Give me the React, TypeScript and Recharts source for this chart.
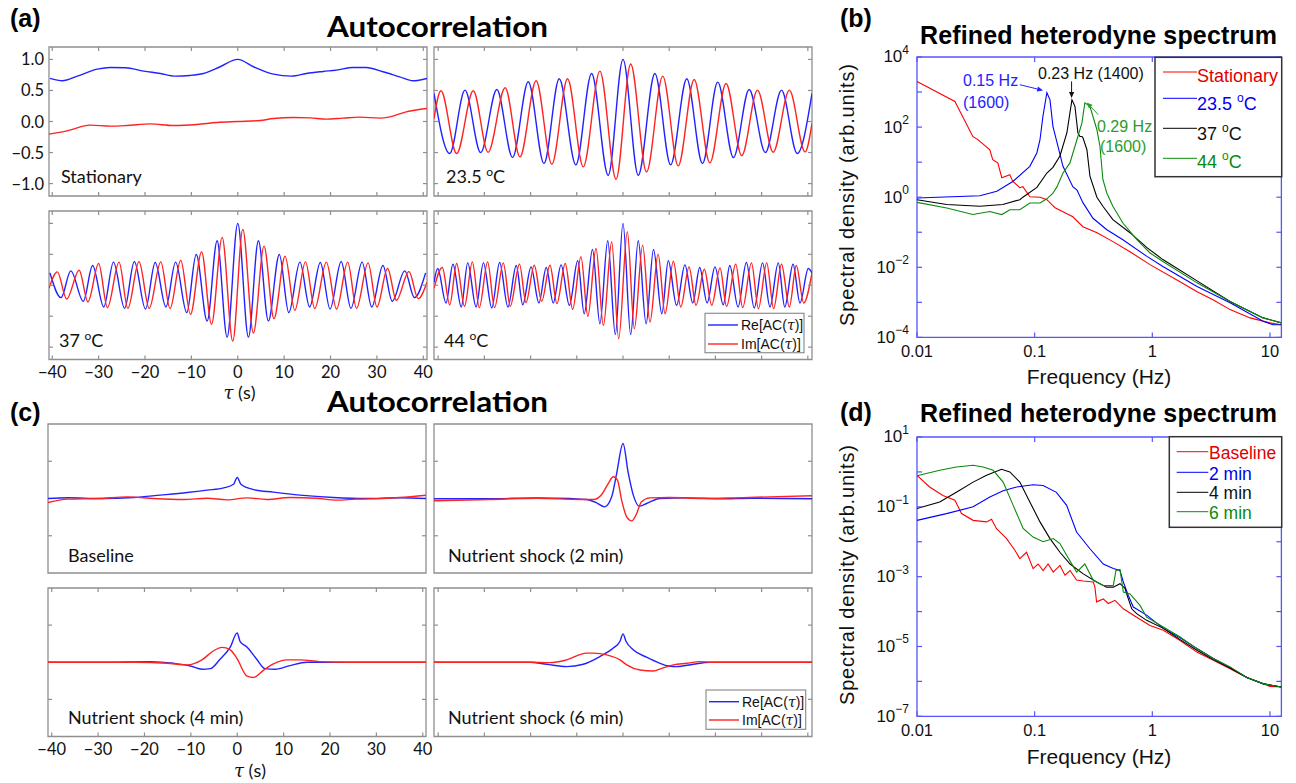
import React from "react";
import { LineChart, Line, XAxis, YAxis, ReferenceArea, ReferenceLine } from "recharts";

type P = [number, number];

// ---- autocorrelation panels (tau in s, value) ----
const tauTicks = [-40, -30, -20, -10, 0, 10, 20, 30, 40];
const acTicksA = [-1, -0.5, 0, 0.5, 1];
const acTicksC = [-0.5, 0.5];

const statRe: P[] = [[-40.5, 0.694], [-37.8, 0.656], [-34.6, 0.731], [-30.3, 0.844], [-27.5, 0.871], [-24.2, 0.866], [-20.3, 0.812], [-16.7, 0.774], [-13.5, 0.731], [-10.3, 0.742], [-7.4, 0.774], [-3.8, 0.882], [0, 1.0], [3.4, 0.882], [7.7, 0.763], [11.6, 0.731], [14.8, 0.774], [18.4, 0.806], [21.3, 0.828], [24.9, 0.871], [27.7, 0.871], [31.3, 0.801], [34.9, 0.72], [37.8, 0.656], [40.8, 0.694]];
const statIm: P[] = [[-40.7, -0.204], [-36.8, -0.15], [-31.8, -0.059], [-27.5, -0.075], [-23.9, -0.065], [-18.9, -0.038], [-13.8, -0.065], [-8.8, -0.048], [-4.5, -0.016], [0, 0], [4.8, 0.016], [7.7, 0.048], [12, 0.065], [15.6, 0.059], [19.1, 0.038], [22.7, 0.054], [26.3, 0.07], [30.6, 0.054], [32.8, 0.075], [36.3, 0.156], [40.8, 0.21]];

const t235Re: P[] = [[-40.9, 0.452], [-37.5, -0.516], [-34.2, 0.505], [-30.8, -0.5], [-27.3, 0.516], [-23.9, -0.581], [-20.5, 0.64], [-17.1, -0.677], [-13.8, 0.688], [-10.2, -0.699], [-6.8, 0.774], [-3.2, -0.866], [0, 1.0], [3.3, -0.866], [6.9, 0.774], [10.3, -0.699], [13.8, 0.688], [17.2, -0.677], [20.5, 0.634], [23.9, -0.581], [27.3, 0.516], [30.8, -0.5], [34.3, 0.505], [37.7, -0.516], [40.9, 0.452]];
const t235Im: P[] = [[-40.9, 0.048], [-39.4, 0.495], [-36, -0.516], [-32.4, 0.495], [-29.2, -0.495], [-25.5, 0.543], [-22.3, -0.57], [-18.8, 0.656], [-15.4, -0.688], [-12, 0.688], [-8.6, -0.731], [-5.0, 0.812], [-1.5, -0.93], [1.66, 0.925], [5.1, -0.812], [8.6, 0.731], [11.95, -0.715], [15.4, 0.677], [18.8, -0.667], [22.3, 0.613], [25.7, -0.548], [29.1, 0.505], [32.5, -0.495], [36, 0.505], [39.4, -0.49], [40.9, -0.03]];

const t37Re: P[] = [[-40.5, 0.2], [-38.1, -0.2], [-36.0, 0.232], [-33.3, -0.259], [-31.3, 0.319], [-28.9, -0.351], [-26.8, 0.373], [-24.4, -0.373], [-22.3, 0.384], [-19.9, -0.384], [-17.8, 0.368], [-15.5, -0.351], [-13.4, 0.373], [-11.0, -0.443], [-8.96, 0.497], [-6.6, -0.578], [-4.45, 0.719], [-2.3, -0.838], [0, 1.0], [2.3, -0.838], [4.45, 0.719], [6.6, -0.578], [8.96, 0.497], [11.0, -0.443], [13.4, 0.373], [15.5, -0.351], [17.8, 0.368], [19.9, -0.384], [22.3, 0.384], [24.4, -0.373], [26.8, 0.373], [28.9, -0.351], [31.3, 0.319], [33.3, -0.259], [36.0, 0.232], [38.1, -0.2], [40.5, 0.2]];
const t37Im: P[] = [[-40.7, -0.05], [-38.9, 0.216], [-36.9, -0.222], [-34.2, 0.243], [-32.3, -0.27], [-30.0, 0.351], [-28.1, -0.362], [-25.6, 0.373], [-23.7, -0.373], [-21.3, 0.384], [-19.1, -0.373], [-16.6, 0.378], [-14.6, -0.378], [-12.3, 0.405], [-10.2, -0.47], [-7.8, 0.54], [-5.66, -0.632], [-3.37, 0.773], [-1.08, -0.903], [1.08, 0.903], [3.37, -0.773], [5.66, 0.632], [7.8, -0.54], [10.2, 0.47], [12.3, -0.405], [14.6, 0.378], [16.6, -0.378], [19.1, 0.373], [21.3, -0.384], [23.7, 0.373], [25.6, -0.373], [28.1, 0.362], [30.0, -0.351], [32.3, 0.27], [34.2, -0.243], [36.9, 0.222], [38.9, -0.216], [40.8, 0.05]];

const t44Re: P[] = [[-40.9, 0.05], [-40.1, 0.27], [-38.3, -0.286], [-36.8, 0.34], [-35, -0.351], [-33.6, 0.362], [-31.8, -0.351], [-30.2, 0.362], [-28.4, -0.368], [-26.7, 0.368], [-24.9, -0.351], [-23.1, 0.319], [-21.7, -0.314], [-19.9, 0.297], [-18.2, -0.286], [-16.6, 0.286], [-15.1, -0.286], [-13.4, 0.33], [-11.6, -0.324], [-9.8, 0.395], [-8.4, -0.46], [-6.6, 0.578], [-5.0, -0.622], [-3.3, 0.719], [-1.66, -0.795], [0, 1.0], [1.66, -0.795], [3.3, 0.719], [5.0, -0.622], [6.6, 0.578], [8.4, -0.46], [9.8, 0.395], [11.6, -0.324], [13.4, 0.33], [15.1, -0.286], [16.6, 0.286], [18.2, -0.286], [19.9, 0.297], [21.7, -0.314], [23.1, 0.319], [24.9, -0.351], [26.7, 0.368], [28.4, -0.368], [30.2, 0.362], [31.8, -0.351], [33.6, 0.362], [35, -0.351], [36.8, 0.34], [38.3, -0.286], [40.1, 0.27], [40.9, 0.2]];
const t44Im: P[] = [[-40.9, -0.05], [-39.1, 0.286], [-37.5, -0.319], [-36, 0.351], [-34.3, -0.34], [-32.6, 0.378], [-31.1, -0.362], [-29.3, 0.378], [-27.8, -0.362], [-25.9, 0.362], [-24.4, -0.34], [-22.4, 0.341], [-21, -0.281], [-19.2, 0.324], [-17.6, -0.259], [-15.8, 0.324], [-14.3, -0.297], [-12.5, 0.351], [-10.9, -0.389], [-9.1, 0.46], [-7.6, -0.503], [-5.84, 0.595], [-4.25, -0.649], [-2.45, 0.703], [-0.94, -0.865], [0.94, 0.865], [2.45, -0.703], [4.25, 0.649], [5.84, -0.595], [7.6, 0.503], [9.1, -0.46], [10.9, 0.389], [12.5, -0.351], [14.3, 0.297], [15.8, -0.324], [17.6, 0.259], [19.2, -0.324], [21, 0.281], [22.4, -0.341], [24.4, 0.34], [25.9, -0.362], [27.8, 0.362], [29.3, -0.378], [31.1, 0.362], [32.6, -0.378], [34.3, 0.34], [36, -0.351], [37.5, 0.319], [39.1, -0.286], [40.9, 0.2]];

const baseRe: P[] = [[-40.8, 0], [-36.6, 0.01], [-29.5, 0], [-22.3, 0.013], [-16.6, 0.045], [-10.8, 0.08], [-6.5, 0.112], [-2.9, 0.143], [-0.8, 0.192], [0, 0.282], [0.8, 0.192], [3.5, 0.12], [7.8, 0.085], [13.5, 0.045], [20.7, 0.013], [27.9, 0], [35, 0.01], [40.8, 0]];
const baseIm: P[] = [[-40.8, -0.054], [-36.6, -0.009], [-29.5, 0], [-23.7, 0.022], [-18, 0], [-11.5, -0.013], [-6.5, 0.004], [-2.2, -0.018], [2.1, 0.009], [6.4, -0.013], [11.4, 0.013], [17, 0.004], [21.4, -0.022], [25.6, -0.009], [31.3, 0], [35, 0.013], [40.8, 0.045]];
const ns2Re: P[] = [[-40.9, -0.004], [-29, -0.004], [-18.7, 0.009], [-11.5, 0], [-7.9, -0.013], [-5.7, -0.058], [-4.0, -0.112], [-2.45, 0.022], [-1.37, 0.336], [0, 0.738], [1.15, 0.336], [2.23, 0.045], [3.5, -0.103], [5.1, -0.067], [8, 0], [13.8, 0.009], [21, -0.004], [28, 0.004], [40.9, -0.004]];
const ns2Im: P[] = [[-40.9, -0.031], [-29, -0.013], [-18.7, 0.004], [-9.3, -0.013], [-6.4, -0.013], [-4.6, 0.054], [-3.2, 0.201], [-2.1, 0.291], [-1.2, 0.246], [-0.3, -0.022], [0.8, -0.246], [1.9, -0.3], [2.8, -0.224], [4.0, -0.045], [5.8, 0.009], [10, 0.013], [17.3, 0], [24.5, 0.009], [31.7, 0.022], [40.9, 0.036]];
const ns4Re: P[] = [[-40.8, 0], [-29.5, 0], [-18.7, 0.009], [-13.7, -0.014], [-10.1, -0.05], [-7.6, -0.095], [-5.8, -0.086], [-3.7, 0.041], [-1.5, 0.205], [0, 0.395], [0.6, 0.282], [2.1, 0.205], [4.2, 0.041], [6.0, -0.086], [8.2, -0.095], [11.4, -0.045], [15, 0], [40.8, 0]];
const ns4Im: P[] = [[-40.8, 0], [-22, 0], [-15.1, -0.014], [-10.8, -0.036], [-7.6, 0.032], [-5.1, 0.155], [-3.3, 0.2], [-1.5, 0.168], [-0.1, 0.055], [2.1, -0.186], [3.5, -0.205], [5.7, -0.105], [7.8, -0.023], [10.7, 0.032], [13.5, 0.032], [17.8, 0.009], [24, 0], [40.8, 0]];
const ns6Re: P[] = [[-40.9, 0], [-20.1, 0], [-16.5, -0.027], [-12.2, -0.059], [-8.6, -0.027], [-5, 0.077], [-2.1, 0.191], [-0.65, 0.282], [0, 0.382], [0.65, 0.282], [2.2, 0.168], [5.1, 0.068], [8, -0.014], [9.8, -0.05], [11.6, -0.059], [15.2, -0.027], [18.8, 0], [40.9, 0]];
const ns6Im: P[] = [[-40.9, 0], [-20.1, 0], [-15.8, -0.005], [-12.2, 0.032], [-7.9, 0.123], [-6.4, 0.123], [-3.5, 0.1], [-0.65, 0.032], [0.8, -0.036], [3.7, -0.105], [6.6, -0.118], [8.4, -0.082], [10.9, -0.036], [13.8, -0.014], [16.6, 0.009], [18.8, 0], [40.9, 0]];

// ---- spectra (frequency Hz, spectral density) ----
const freqTicks = [0.01, 0.1, 1, 10];
const decB = [1e-4, 1e-3, 1e-2, 1e-1, 1, 1e1, 1e2, 1e3, 1e4];
const decD = [1e-7, 1e-6, 1e-5, 1e-4, 1e-3, 1e-2, 1e-1, 1, 1e1];

const specStat: P[] = [[0.01, 2000], [0.021, 540], [0.0298, 54], [0.0329, 44], [0.0416, 22.6], [0.044, 11.7], [0.0486, 9.6], [0.0526, 3.6], [0.0615, 4.4], [0.0652, 2.8], [0.0748, 1.87], [0.0794, 2.0], [0.091, 1.03], [0.111, 1.0], [0.127, 0.85], [0.14, 0.61], [0.149, 0.5], [0.174, 0.385], [0.211, 0.277], [0.257, 0.144], [0.339, 0.097], [0.463, 0.054], [0.646, 0.0279], [0.955, 0.0119], [1.72, 0.00388], [2.4, 0.00201], [3.28, 0.00119], [4.58, 6.2e-4], [6.78, 3.6e-4], [10, 2.6e-4], [12.5, 2.3e-4]];
const spec235: P[] = [[0.01, 0.95], [0.0342, 1.1], [0.0477, 1.47], [0.0652, 2.8], [0.091, 7.6], [0.1045, 18.6], [0.111, 43.6], [0.1175, 202], [0.127, 955], [0.135, 600], [0.143, 105], [0.155, 36], [0.174, 7.6], [0.211, 2.0], [0.229, 1.6], [0.257, 0.7], [0.313, 0.25], [0.411, 0.118], [0.562, 0.061], [0.9, 0.0205], [1.23, 0.0106], [2.4, 0.00285], [4.58, 9.8e-4], [8.75, 2.9e-4], [10.6, 2.3e-4], [12.5, 2.3e-4]];
const spec37: P[] = [[0.01, 0.85], [0.0179, 0.62], [0.0342, 0.55], [0.0536, 0.62], [0.0748, 0.85], [0.0794, 1.0], [0.1045, 1.9], [0.127, 4.9], [0.143, 7.1], [0.164, 15], [0.188, 69], [0.1995, 258], [0.2074, 600], [0.22, 390], [0.233, 69], [0.2425, 54], [0.252, 54], [0.257, 50], [0.278, 22.6], [0.295, 4], [0.338, 1.0], [0.38, 0.55], [0.462, 0.23], [0.646, 0.097], [0.9, 0.0365], [1.23, 0.0166], [2.4, 0.0041], [4.58, 0.00106], [8.75, 3.6e-4], [12.5, 2.6e-4]];
const spec44: P[] = [[0.01, 0.71], [0.0179, 0.49], [0.0298, 0.32], [0.0416, 0.39], [0.0526, 0.32], [0.0615, 0.44], [0.0748, 0.44], [0.091, 0.68], [0.111, 0.68], [0.127, 0.9], [0.143, 1.3], [0.155, 2.0], [0.174, 4.9], [0.1995, 9.5], [0.233, 54], [0.252, 130], [0.267, 490], [0.295, 390], [0.338, 84], [0.359, 28], [0.38, 3.2], [0.411, 1.3], [0.462, 0.55], [0.564, 0.18], [0.743, 0.061], [0.956, 0.0256], [1.23, 0.0147], [2.4, 0.0036], [4.58, 0.00106], [8.75, 3.6e-4], [12.5, 2.6e-4]];

const specBase: P[] = [[0.01, 0.8], [0.0128, 0.37], [0.0166, 0.21], [0.021, 0.155], [0.0239, 0.064], [0.03, 0.041], [0.039, 0.037], [0.043, 0.044], [0.0474, 0.0237], [0.0577, 0.0123], [0.0679, 0.0057], [0.0748, 0.0033], [0.0853, 0.005], [0.097, 0.0017], [0.107, 0.0023], [0.118, 0.0015], [0.13, 0.0023], [0.144, 0.00135], [0.164, 0.0021], [0.181, 0.0011], [0.2, 0.0015], [0.227, 8e-4], [0.259, 7.5e-4], [0.315, 7e-4], [0.325, 5e-4], [0.336, 1.9e-4], [0.383, 2.3e-4], [0.422, 1.7e-4], [0.482, 2.1e-4], [0.567, 1.2e-4], [0.736, 6.9e-5], [0.955, 4e-5], [1.24, 2.9e-5], [1.71, 1.5e-5], [2.39, 6.9e-6], [3.3, 4e-6], [4.58, 2.3e-6], [6.35, 1.3e-6], [8.8, 8.5e-7], [10, 7.2e-7], [12.5, 6.9e-7]];
const spec2: P[] = [[0.01, 0.041], [0.0178, 0.064], [0.03, 0.1], [0.0416, 0.19], [0.054, 0.29], [0.0702, 0.37], [0.097, 0.43], [0.118, 0.41], [0.153, 0.26], [0.187, 0.11], [0.227, 0.019], [0.295, 0.0063], [0.383, 0.0023], [0.466, 0.0017], [0.531, 0.0015], [0.567, 7e-4], [0.625, 2.9e-4], [0.689, 1.35e-4], [0.895, 7.9e-5], [1.24, 3.3e-5], [1.71, 1.8e-5], [2.39, 8.7e-6], [3.3, 4.5e-6], [4.58, 2.5e-6], [6.35, 1.3e-6], [8.8, 8.5e-7], [12.5, 6.9e-7]];
const spec4: P[] = [[0.01, 0.089], [0.0156, 0.138], [0.0216, 0.26], [0.03, 0.51], [0.039, 0.8], [0.0523, 1.19], [0.0615, 1.0], [0.0748, 0.51], [0.091, 0.138], [0.111, 0.037], [0.135, 0.0123], [0.164, 0.005], [0.2, 0.0023], [0.259, 0.0012], [0.336, 7e-4], [0.409, 5e-4], [0.466, 5e-4], [0.531, 6.3e-4], [0.586, 4.6e-4], [0.605, 3.2e-4], [0.668, 1.2e-4], [0.736, 8.7e-5], [0.895, 5.6e-5], [1.24, 3.3e-5], [1.71, 1.6e-5], [2.39, 7.8e-6], [3.3, 4.2e-6], [4.58, 2.4e-6], [6.35, 1.3e-6], [8.8, 8.5e-7], [12.5, 6.9e-7]];
const spec6: P[] = [[0.01, 0.78], [0.0156, 1.11], [0.0216, 1.38], [0.03, 1.55], [0.0365, 1.38], [0.0444, 1.11], [0.054, 0.51], [0.0657, 0.11], [0.0798, 0.024], [0.097, 0.0136], [0.118, 0.01], [0.144, 0.0123], [0.164, 0.0089], [0.187, 0.0041], [0.227, 0.00135], [0.267, 0.0023], [0.315, 7.9e-4], [0.383, 5.6e-4], [0.466, 5.6e-4], [0.491, 0.0015], [0.531, 0.0016], [0.567, 3.6e-4], [0.646, 3.2e-4], [0.786, 1.5e-4], [0.895, 6.9e-5], [1.24, 3.6e-5], [1.71, 1.9e-5], [2.39, 8.7e-6], [3.3, 4.5e-6], [4.58, 2.6e-6], [6.35, 1.3e-6], [8.8, 8.5e-7], [12.5, 6.9e-7]];

// peak annotation arrows in (b): [from, to]
const arrow015: P[] = [[0.0748, 1620], [0.118, 1114]];
const arrow023: P[] = [[0.206, 2014], [0.206, 676]];
const arrow029: P[] = [[0.347, 226], [0.277, 507]];

const F_CAL = "Lato, 'Open Sans', sans-serif";
const F_ARI = "'Liberation Sans', Arial, sans-serif";
const FRAME = "#8f8f8f";
const AX_BLUE = "#5555ff";
const AC_BLUE = "#2222ff";
const AC_RED = "#ff2222";
const GREEN = "#0a8a0a";

const pts = (a: P[]) => a.map(([t, v]) => ({ t, v }));
const fmtTau = (v: number) => (v < 0 ? `\u2212${-v}` : `${v}`);
const fmtAc = (v: number) => (v < 0 ? "\u2212" : "") + Math.abs(v).toFixed(1);

function mkXTick(h: number, len: number, color: string, label?: (v: number) => React.ReactNode, font?: string, size?: number, off = 13) {
  return (p: any) => (
    <g>
      <line x1={p.x} x2={p.x} y1={p.y} y2={p.y - len} stroke={color} strokeWidth={1.2} />
      <line x1={p.x} x2={p.x} y1={p.y - h} y2={p.y - h + len} stroke={color} strokeWidth={1.2} />
      {label ? (
        <text x={p.x} y={p.y + off} textAnchor="middle" dominantBaseline="central" fontFamily={font} fontSize={size} fill="#111">
          {label(p.payload.value)}
        </text>
      ) : null}
    </g>
  );
}

function mkYTick(w: number, len: number, color: string, label?: (v: number) => React.ReactNode, font?: string, size?: number, off = 5) {
  return (p: any) => (
    <g>
      <line x1={p.x} x2={p.x + len} y1={p.y} y2={p.y} stroke={color} strokeWidth={1.2} />
      <line x1={p.x + w} x2={p.x + w - len} y1={p.y} y2={p.y} stroke={color} strokeWidth={1.2} />
      {label ? (
        <text x={p.x - off} y={p.y} textAnchor="end" dominantBaseline="central" fontFamily={font} fontSize={size} fill="#111">
          {label(p.payload.value)}
        </text>
      ) : null}
    </g>
  );
}

type AcProps = {
  x: number; y: number; w: number; h: number;
  dom: [number, number]; yDom: [number, number]; yTicks: number[];
  xTicks: boolean; xLab?: boolean; yLab?: boolean; re: P[]; im: P[];
};

function AcPanel(p: AcProps) {
  const padL = 48, padB = 30, padT = 12, padR = 16;
  const xt = p.xTicks ? mkXTick(p.h, 4, FRAME, p.xLab ? fmtTau : undefined, F_CAL, 16.5, 12.5) : false;
  const yt = mkYTick(p.w, 4, FRAME, p.yLab ? fmtAc : undefined, F_CAL, 16.5, 5);
  return (
    <div style={{ position: "absolute", left: p.x - padL, top: p.y - padT }}>
      <LineChart width={p.w + padL + padR} height={p.h + padT + padB} margin={{ top: padT, right: padR, bottom: 0, left: 0 }}>
        <XAxis type="number" dataKey="t" domain={p.dom} allowDataOverflow ticks={tauTicks} interval={0} height={padB}
          tickSize={0} tickMargin={0} axisLine={false} tickLine={false} tick={xt as any} />
        <YAxis type="number" domain={p.yDom} allowDataOverflow ticks={p.yTicks} interval={0} width={padL}
          tickSize={0} tickMargin={0} axisLine={false} tickLine={false} tick={yt as any} />
        <ReferenceArea x1={p.dom[0]} x2={p.dom[1]} y1={p.yDom[0]} y2={p.yDom[1]} fill="none" fillOpacity={0}
          stroke={FRAME} strokeWidth={1.3} ifOverflow="visible" />
        <Line data={pts(p.re)} dataKey="v" type="monotone" stroke={AC_BLUE} strokeWidth={1.4} dot={false} isAnimationActive={false} />
        <Line data={pts(p.im)} dataKey="v" type="monotone" stroke={AC_RED} strokeWidth={1.4} dot={false} isAnimationActive={false} />
      </LineChart>
    </div>
  );
}

const arrowShape = (color: string) => (p: any) => {
  const { x1, y1, x2, y2 } = p;
  const a = Math.atan2(y2 - y1, x2 - x1);
  const L = 6, W = 2.6;
  const bx = x2 - L * Math.cos(a), by = y2 - L * Math.sin(a);
  const poly = `${x2},${y2} ${bx - W * Math.sin(a)},${by + W * Math.cos(a)} ${bx + W * Math.sin(a)},${by - W * Math.cos(a)}`;
  return (
    <g>
      <line x1={x1} y1={y1} x2={bx} y2={by} stroke={color} strokeWidth={1} />
      <polygon points={poly} fill={color} />
    </g>
  );
};

type Series = { data: P[]; color: string };
type SpecProps = {
  x: number; y: number; w: number; h: number; yDom: [number, number]; yTicks: number[];
  labeled: number[]; series: Series[]; arrows?: { seg: P[]; color: string }[];
};

function logLabel(labeled: number[]) {
  return (v: number) => {
    const e = Math.round(Math.log10(v));
    if (!labeled.includes(e)) return null;
    return (
      <>
        10<tspan dy={-7} fontSize={12}>{e < 0 ? `\u2212${-e}` : `${e}`}</tspan>
      </>
    );
  };
}

function SpecPanel(p: SpecProps) {
  const padL = 70, padB = 30, padT = 14, padR = 12;
  const xt = mkXTick(p.h, 5, AX_BLUE, (v) => `${v}`, F_ARI, 16.5, 13.5);
  const yt = mkYTick(p.w, 5, AX_BLUE, logLabel(p.labeled), F_ARI, 17, 8);
  return (
    <div style={{ position: "absolute", left: p.x - padL, top: p.y - padT }}>
      <LineChart width={p.w + padL + padR} height={p.h + padT + padB} margin={{ top: padT, right: padR, bottom: 0, left: 0 }}>
        <XAxis type="number" scale="log" dataKey="t" domain={[0.01, 12.5]} allowDataOverflow ticks={freqTicks} interval={0}
          height={padB} tickSize={0} tickMargin={0} axisLine={false} tickLine={false} tick={xt as any} />
        <YAxis type="number" scale="log" domain={p.yDom} allowDataOverflow ticks={p.yTicks} interval={0} width={padL}
          tickSize={0} tickMargin={0} axisLine={false} tickLine={false} tick={yt as any} />
        <ReferenceArea x1={0.01} x2={12.5} y1={p.yDom[0]} y2={p.yDom[1]} fill="none" fillOpacity={0}
          stroke={AX_BLUE} strokeWidth={1.3} ifOverflow="visible" />
        {p.series.map((s, i) => (
          <Line key={i} data={pts(s.data)} dataKey="v" type="linear" stroke={s.color} strokeWidth={1.1} dot={false} isAnimationActive={false} />
        ))}
        {(p.arrows ?? []).map((a, i) => (
          <ReferenceLine key={`a${i}`} segment={[{ x: a.seg[0][0], y: a.seg[0][1] }, { x: a.seg[1][0], y: a.seg[1][1] }]}
            shape={arrowShape(a.color) as any} ifOverflow="visible" />
        ))}
      </LineChart>
    </div>
  );
}

const Deg = ({ big, small, dy }: { big: number; small: number; dy: number }) => (
  <>
    <tspan dy={-dy} fontSize={small}>o</tspan>
    <tspan dy={dy} fontSize={big}>C</tspan>
  </>
);

const Tau = ({ size }: { size: number }) => (
  <tspan fontFamily="'DejaVu Serif', serif" fontStyle="italic" fontSize={size}>τ</tspan>
);

export default function App() {
  const L: [number, number] = [-40.7, 40.8];
  const R: [number, number] = [-40.9, 40.9];
  const LC: [number, number] = [-40.8, 40.7];
  const yA: [number, number] = [-1.2, 1.2];
  const yC: [number, number] = [-1, 1];
  return (
    <div style={{ position: "absolute", left: 0, top: 0, width: 1296, height: 783, background: "#fff", overflow: "hidden" }}>
      {/* (a) */}
      <AcPanel x={49} y={47} w={378} h={149} dom={L} yDom={yA} yTicks={acTicksA} xTicks yLab re={statRe} im={statIm} />
      <AcPanel x={434} y={47} w={378} h={149} dom={R} yDom={yA} yTicks={acTicksA} xTicks re={t235Re} im={t235Im} />
      <AcPanel x={49} y={211} w={378} h={148.5} dom={L} yDom={yA} yTicks={acTicksA} xTicks xLab re={t37Re} im={t37Im} />
      <AcPanel x={434} y={211} w={378} h={148.5} dom={R} yDom={yA} yTicks={acTicksA} xTicks re={t44Re} im={t44Im} />
      {/* (c) */}
      <AcPanel x={48} y={424} w={378} h={149} dom={LC} yDom={yC} yTicks={acTicksC} xTicks={false} re={baseRe} im={baseIm} />
      <AcPanel x={434} y={424} w={378} h={149} dom={R} yDom={yC} yTicks={acTicksC} xTicks={false} re={ns2Re} im={ns2Im} />
      <AcPanel x={48} y={588} w={378} h={148.5} dom={LC} yDom={yC} yTicks={acTicksC} xTicks xLab re={ns4Re} im={ns4Im} />
      <AcPanel x={434} y={588} w={378} h={148.5} dom={R} yDom={yC} yTicks={acTicksC} xTicks re={ns6Re} im={ns6Im} />
      {/* (b) */}
      <SpecPanel x={917.3} y={57.3} w={364.4} h={280.4} yDom={[1e-4, 1e4]} yTicks={decB} labeled={[4, 2, 0, -2, -4]}
        series={[{ data: specStat, color: "#ff0000" }, { data: spec235, color: "#0000ff" }, { data: spec37, color: "#000" }, { data: spec44, color: GREEN }]}
        arrows={[{ seg: arrow015, color: "#2222ff" }, { seg: arrow023, color: "#111" }, { seg: arrow029, color: "#2a9d2a" }]} />
      {/* (d) */}
      <SpecPanel x={917.3} y={436.7} w={364.4} h={279.3} yDom={[1e-7, 1e1]} yTicks={decD} labeled={[1, -1, -3, -5, -7]}
        series={[{ data: specBase, color: "#ff0000" }, { data: spec2, color: "#0000ff" }, { data: spec4, color: "#000" }, { data: spec6, color: GREEN }]} />

      <svg width={1296} height={783} style={{ position: "absolute", left: 0, top: 0, pointerEvents: "none" }}>
        {/* panel letters */}
        <g fontFamily={F_ARI} fontWeight="bold" fontSize={25} fill="#000">
          <text x={10} y={27}>(a)</text>
          <text x={840} y={27}>(b)</text>
          <text x={10} y={421}>(c)</text>
          <text x={840} y={421}>(d)</text>
        </g>
        {/* titles */}
        <g fontFamily={F_CAL} fontWeight="bold" fontSize={29} fill="#000" textAnchor="middle">
          <text x={437.5} y={37} textLength={221} lengthAdjust="spacingAndGlyphs">Autocorrelation</text>
          <text x={437.5} y={412} textLength={221} lengthAdjust="spacingAndGlyphs">Autocorrelation</text>
        </g>
        <g fontFamily={F_ARI} fontWeight="bold" fontSize={25} fill="#000" textAnchor="middle">
          <text x={1098.5} y={44} textLength={357} lengthAdjust="spacing">Refined heterodyne spectrum</text>
          <text x={1098.5} y={421.5} textLength={357} lengthAdjust="spacing">Refined heterodyne spectrum</text>
        </g>
        {/* (a)/(c) panel captions */}
        <g fontFamily={F_CAL} fontSize={18} fill="#111">
          <text x={61} y={183}>Stationary</text>
          <text x={446} y={183}>23.5 <Deg big={18} small={12} dy={7} /></text>
          <text x={59} y={347}>37 <Deg big={18} small={12} dy={7} /></text>
          <text x={444} y={347}>44 <Deg big={18} small={12} dy={7} /></text>
          <text x={68} y={561.5}>Baseline</text>
          <text x={448} y={561.5}>Nutrient shock (2 min)</text>
          <text x={68} y={724}>Nutrient shock (4 min)</text>
          <text x={448} y={724}>Nutrient shock (6 min)</text>
          <text x={239.5} y={392} textAnchor="middle" dominantBaseline="central"><Tau size={18} /> (s)</text>
          <text x={250} y={770} textAnchor="middle" dominantBaseline="central"><Tau size={18} /> (s)</text>
        </g>
        {/* (a) legend */}
        <g fontFamily={F_ARI} fontSize={14} fill="#111">
          <rect x={705} y={313.3} width={99} height={39.4} fill="#fff" stroke={FRAME} strokeWidth={1.2} />
          <line x1={708} x2={738} y1={325} y2={325} stroke={AC_BLUE} strokeWidth={1.4} />
          <line x1={708} x2={738} y1={344} y2={344} stroke={AC_RED} strokeWidth={1.4} />
          <text x={741} y={330}>Re[AC(<Tau size={14} />)]</text>
          <text x={741} y={349}>Im[AC(<Tau size={14} />)]</text>
          <rect x={706} y={690} width={99.7} height={39.3} fill="#fff" stroke={FRAME} strokeWidth={1.2} />
          <line x1={709} x2={739} y1={701.7} y2={701.7} stroke={AC_BLUE} strokeWidth={1.4} />
          <line x1={709} x2={739} y1={720} y2={720} stroke={AC_RED} strokeWidth={1.4} />
          <text x={742} y={706.7}>Re[AC(<Tau size={14} />)]</text>
          <text x={742} y={725}>Im[AC(<Tau size={14} />)]</text>
        </g>
        {/* (b)/(d) axis titles */}
        <g fontFamily={F_ARI} fontSize={21} fill="#111" textAnchor="middle" dominantBaseline="central">
          <text x={1099} y={376.7}>Frequency (Hz)</text>
          <text x={1099} y={756.7}>Frequency (Hz)</text>
          <text transform="translate(847,195) rotate(-90)" fontSize={20} textLength={262} lengthAdjust="spacing">Spectral density (arb.units)</text>
          <text transform="translate(847,575) rotate(-90)" fontSize={20} textLength={260} lengthAdjust="spacing">Spectral density (arb.units)</text>
        </g>
        {/* (b) annotations */}
        <g fontFamily={F_ARI} fontSize={16} dominantBaseline="central">
          <text x={963} y={80} fill="#2222ff">0.15 Hz</text>
          <text x={963} y={102} fill="#2222ff">(1600)</text>
          <text x={1038} y={73} fill="#111">0.23 Hz (1400)</text>
          <text x={1097} y={126} fill="#2a9d2a">0.29 Hz</text>
          <text x={1100} y={146} fill="#2a9d2a">(1600)</text>
        </g>
        {/* (b) legend */}
        <g fontFamily={F_ARI} fontSize={18}>
          <rect x={1155} y={57.3} width={126.7} height={119.4} fill="#fff" stroke="#333" strokeWidth={1.5} />
          <line x1={1163} x2={1197} y1={72} y2={72} stroke="#ff0000" />
          <text x={1197} y={81.7} fill="#e00000">Stationary</text>
          <line x1={1163} x2={1197} y1={98.3} y2={98.3} stroke="#0000ff" />
          <text x={1197} y={110} fill="#0000ee">23.5 <Deg big={18} small={12} dy={8} /></text>
          <line x1={1163} x2={1197} y1={128.3} y2={128.3} stroke="#000" />
          <text x={1197} y={140} fill="#111">37 <Deg big={18} small={12} dy={8} /></text>
          <line x1={1163} x2={1197} y1={158.3} y2={158.3} stroke={GREEN} />
          <text x={1197} y={168.3} fill={GREEN}>44 <Deg big={18} small={12} dy={8} /></text>
        </g>
        {/* (d) legend */}
        <g fontFamily={F_ARI} fontSize={17.5}>
          <rect x={1169.3} y={436.7} width={112.4} height={90.6} fill="#fff" stroke="#333" strokeWidth={1.5} />
          <line x1={1176.7} x2={1208.3} y1={451.7} y2={451.7} stroke="#ff0000" />
          <text x={1209} y={459.3} fill="#e00000">Baseline</text>
          <line x1={1176.7} x2={1208.3} y1={472.3} y2={472.3} stroke="#0000ff" />
          <text x={1209} y={480} fill="#0000ee">2 min</text>
          <line x1={1176.7} x2={1208.3} y1={492.3} y2={492.3} stroke="#000" />
          <text x={1209} y={499.3} fill="#111">4 min</text>
          <line x1={1176.7} x2={1208.3} y1={511.7} y2={511.7} stroke={GREEN} />
          <text x={1209} y={519} fill={GREEN}>6 min</text>
        </g>
      </svg>
    </div>
  );
}
